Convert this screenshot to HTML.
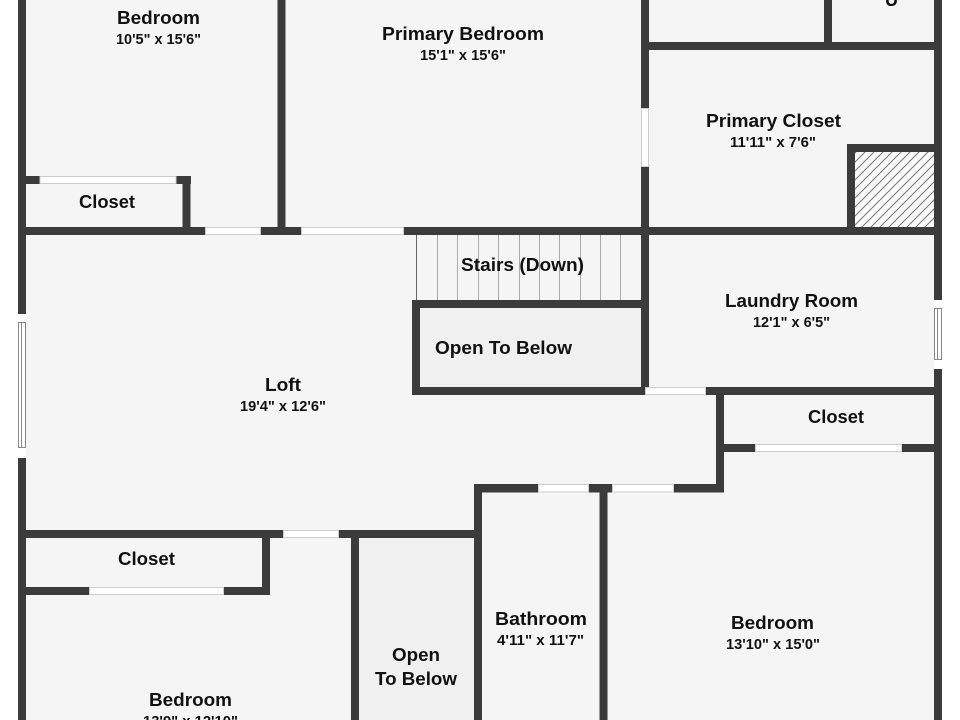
<!DOCTYPE html>
<html><head><meta charset="utf-8"><style>
html,body{margin:0;padding:0;background:#fff}
svg{display:block}
text{font-family:"Liberation Sans",sans-serif;font-weight:700;fill:#111}
.n{font-size:18px}.d{font-size:15px}
</style></head><body>
<svg width="960" height="720" viewBox="0 0 960 720" xmlns="http://www.w3.org/2000/svg">
<defs><pattern id="h" width="9" height="9" patternUnits="userSpaceOnUse" patternTransform="translate(855 153)">
<rect width="9" height="9" fill="#fafafa"/><path d="M-1 1L1 -1M0 9L9 0M8 10L10 8" stroke="#777" stroke-width="1"/></pattern></defs>
<rect width="960" height="720" fill="#fff"/>
<rect x="18" y="0" width="924" height="720" fill="#f5f5f5"/>
<rect x="420" y="308" width="221" height="79" fill="#f0f0f0"/>
<rect x="359" y="538" width="115" height="182" fill="#f0f0f0"/>
<rect x="855" y="152" width="79" height="75" fill="url(#h)"/>
<g stroke="#aaa" stroke-width="1">
<path d="M437.500 235V300M457.500 235V300M478.500 235V300M498.500 235V300M519.500 235V300M539.500 235V300M559.500 235V300M580.500 235V300M600.500 235V300M620.500 235V300"/>
</g>
<path d="M416.500 235V300" stroke="#666" stroke-width="1"/>
<g fill="#3b3b3b">
<rect x="18" y="0" width="8" height="720"/>
<rect x="934" y="0" width="8" height="720"/>
<rect x="277.500" y="0" width="8" height="235"/>
<rect x="641" y="0" width="8" height="395"/>
<rect x="824" y="0" width="8" height="50"/>
<rect x="641" y="42" width="301" height="8"/>
<rect x="847" y="144" width="95" height="8"/>
<rect x="847" y="144" width="8" height="91"/>
<rect x="18" y="176" width="173" height="8"/>
<rect x="182.500" y="176" width="8" height="59"/>
<rect x="18" y="227" width="924" height="8"/>
<rect x="412" y="300" width="237" height="8"/>
<rect x="412" y="300" width="8" height="95"/>
<rect x="412" y="387" width="530" height="8"/>
<rect x="716" y="387" width="8" height="105"/>
<rect x="716" y="444" width="226" height="8"/>
<rect x="474" y="484" width="250" height="8.500"/>
<rect x="474" y="484" width="8" height="236"/>
<rect x="599.500" y="484" width="8" height="236"/>
<rect x="18" y="530" width="464" height="8"/>
<rect x="351" y="530" width="8" height="190"/>
<rect x="262" y="530" width="8" height="65"/>
<rect x="18" y="587" width="252" height="8"/>
</g>
<g fill="#fff" stroke="#ccc" stroke-width="1">
<rect x="40" y="176.500" width="136" height="7"/>
<rect x="205.500" y="227.500" width="55" height="7"/>
<rect x="301.500" y="227.500" width="102" height="7"/>
<rect x="645.500" y="387.500" width="60" height="7"/>
<rect x="755.500" y="444.500" width="146" height="7"/>
<rect x="538.500" y="484.500" width="50" height="7.500"/>
<rect x="612.500" y="484.500" width="61" height="7.500"/>
<rect x="283.500" y="530.500" width="55" height="7"/>
<rect x="89.500" y="587.500" width="134" height="7"/>
<rect x="641.500" y="108.500" width="7" height="58"/>
</g>
<g fill="#fff">
<rect x="18" y="314" width="8" height="144"/>
<rect x="934" y="300" width="8" height="69"/>
</g>
<g fill="none" stroke="#888" stroke-width="1">
<rect x="18.500" y="322.500" width="7" height="125"/>
<path d="M21.500 323V447"/>
<rect x="934.500" y="308.500" width="7" height="51"/>
<path d="M937.500 309V359"/>
</g>
<text class="n" x="117" y="24" textLength="83" lengthAdjust="spacingAndGlyphs">Bedroom</text>
<text class="d" x="116" y="44" textLength="85" lengthAdjust="spacingAndGlyphs">10'5" x 15'6"</text>
<text class="n" x="382" y="40" textLength="162" lengthAdjust="spacingAndGlyphs">Primary Bedroom</text>
<text class="d" x="420" y="60" textLength="86" lengthAdjust="spacingAndGlyphs">15'1" x 15'6"</text>
<text class="n" x="885" y="6">U</text>
<text class="n" x="706" y="127" textLength="135" lengthAdjust="spacingAndGlyphs">Primary Closet</text>
<text class="d" x="730" y="147" textLength="86" lengthAdjust="spacingAndGlyphs">11'11" x 7'6"</text>
<text class="n" x="79" y="208" textLength="56" lengthAdjust="spacingAndGlyphs">Closet</text>
<text class="n" x="461" y="271" textLength="123" lengthAdjust="spacingAndGlyphs">Stairs (Down)</text>
<text class="n" x="435" y="354" textLength="137" lengthAdjust="spacingAndGlyphs">Open To Below</text>
<text class="n" x="725" y="307" textLength="133" lengthAdjust="spacingAndGlyphs">Laundry Room</text>
<text class="d" x="753" y="327" textLength="77" lengthAdjust="spacingAndGlyphs">12'1" x 6'5"</text>
<text class="n" x="808" y="423" textLength="56" lengthAdjust="spacingAndGlyphs">Closet</text>
<text class="n" x="265" y="391" textLength="36" lengthAdjust="spacingAndGlyphs">Loft</text>
<text class="d" x="240" y="411" textLength="86" lengthAdjust="spacingAndGlyphs">19'4" x 12'6"</text>
<text class="n" x="118" y="565" textLength="57" lengthAdjust="spacingAndGlyphs">Closet</text>
<text class="n" x="149" y="706" textLength="83" lengthAdjust="spacingAndGlyphs">Bedroom</text>
<text class="d" x="143" y="726" textLength="95" lengthAdjust="spacingAndGlyphs">13'9" x 12'10"</text>
<text class="n" x="495" y="625" textLength="92" lengthAdjust="spacingAndGlyphs">Bathroom</text>
<text class="d" x="497" y="645" textLength="87" lengthAdjust="spacingAndGlyphs">4'11" x 11'7"</text>
<text class="n" x="392" y="661" textLength="48" lengthAdjust="spacingAndGlyphs">Open</text>
<text class="n" x="375" y="685" textLength="82" lengthAdjust="spacingAndGlyphs">To Below</text>
<text class="n" x="731" y="629" textLength="83" lengthAdjust="spacingAndGlyphs">Bedroom</text>
<text class="d" x="726" y="649" textLength="94" lengthAdjust="spacingAndGlyphs">13'10" x 15'0"</text>
</svg>
</body></html>
